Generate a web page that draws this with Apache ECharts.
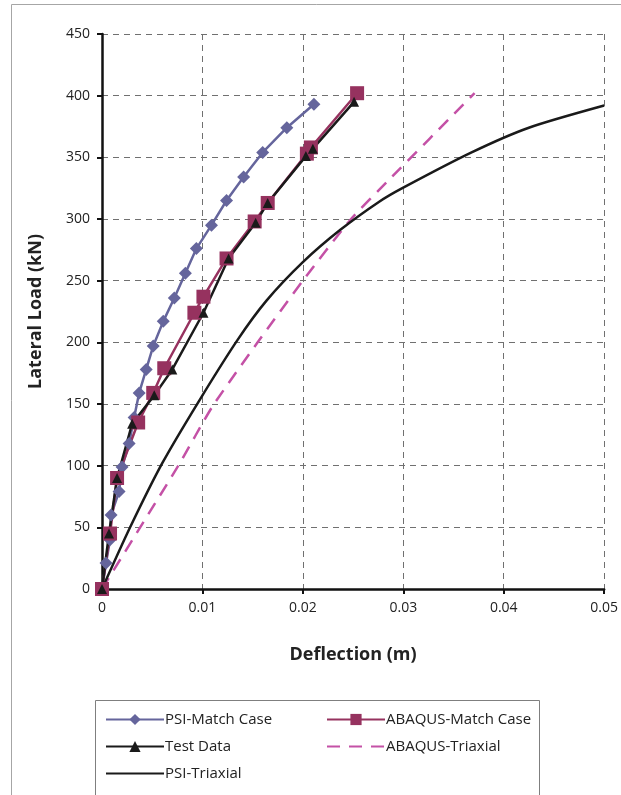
<!DOCTYPE html>
<html>
<head>
<meta charset="utf-8">
<script src="https://cdn.jsdelivr.net/npm/echarts@6/dist/echarts.min.js"></script>
<style>
  html, body { margin: 0; padding: 0; background: #fff; }
  #chart { width: 621px; height: 795px; }
</style>
</head>
<body>
<div id="chart"></div>
<script>
// deflection (m) / lateral load (kN)
let psiMatchDefl = [0, 0.0004, 0.0008, 0.0009, 0.0017, 0.002, 0.0027, 0.0032, 0.0037, 0.0044, 0.0051, 0.0061, 0.0072, 0.0083, 0.0094, 0.0109, 0.0124, 0.0141, 0.016, 0.0184, 0.0211];
let psiMatchLoad = [0, 21, 40, 60, 79, 99, 118, 139, 159, 178, 197, 217, 236, 256, 276, 295, 315, 334, 354, 374, 393];

let abaqusMatchDefl = [0, 0.0008, 0.0015, 0.0036, 0.0051, 0.0062, 0.0092, 0.0101, 0.0124, 0.0152, 0.0165, 0.0204, 0.0208, 0.0254];
let abaqusMatchLoad = [0, 45, 90, 135, 159, 179, 224, 237, 268, 298, 313, 353, 358, 402];

let testDefl = [0, 0.0007, 0.0015, 0.003, 0.0052, 0.007, 0.0101, 0.0126, 0.0153, 0.0165, 0.0203, 0.021, 0.0251];
let testLoad = [0, 45, 90, 134, 157, 178, 224, 268, 297, 313, 351, 357, 395];

let abaqusTriDefl = [0, 0.0038, 0.0076, 0.011, 0.0155, 0.02, 0.0247, 0.0286, 0.0371];
let abaqusTriLoad = [0, 50, 100, 148, 200, 250, 299, 332, 402];

let psiTriDefl = [0, 0.0028, 0.006, 0.0097, 0.0135, 0.0164, 0.02, 0.0237, 0.0276, 0.0299, 0.0368, 0.0425, 0.05];
let psiTriLoad = [0, 50, 102, 153, 202, 234, 265, 291, 314, 325, 354, 374, 392];

function zip(xs, ys) {
    return xs.map((x, i) => [x, ys[i]]);
}

let chart = echarts.init(document.getElementById('chart'));
let font = '"Open Sans", "Noto Sans", sans-serif';

let legendText = { fontSize: 15, color: '#222', fontFamily: font, padding: [0, 0, 0, -4] };

let option = {
    animation: false,
    textStyle: { fontFamily: font },
    graphic: [
        {
            type: 'rect',
            shape: { x: 11.5, y: 4.5, width: 640, height: 820 },
            style: { fill: 'none', stroke: '#a6a6a6', lineWidth: 1 }
        },
        {
            type: 'rect',
            shape: { x: 95.5, y: 700.5, width: 444, height: 120 },
            style: { fill: 'none', stroke: '#7f7f7f', lineWidth: 1 }
        }
    ],
    grid: { left: 102, right: 16, top: 34, bottom: 206 },
    xAxis: {
        type: 'value',
        min: 0,
        max: 0.05,
        interval: 0.01,
        name: 'Deflection (m)',
        nameLocation: 'middle',
        nameGap: 57,
        nameTextStyle: { fontSize: 18, fontWeight: 'bold', color: '#222', fontFamily: font },
        axisLine: { lineStyle: { color: '#111', width: 2.5 } },
        axisTick: { show: true, length: 5, lineStyle: { color: '#111', width: 2 } },
        axisLabel: { fontSize: 14, color: '#222', margin: 12, fontFamily: font },
        splitLine: { show: true, lineStyle: { color: '#707070', type: [6, 5], width: 1 } }
    },
    yAxis: {
        type: 'value',
        min: 0,
        max: 450,
        interval: 50,
        name: 'Lateral Load (kN)',
        nameLocation: 'middle',
        nameGap: 57,
        nameRotate: 90,
        nameTextStyle: { fontSize: 18, fontWeight: 'bold', color: '#222', fontFamily: font },
        axisLine: { show: true, lineStyle: { color: '#111', width: 2.5 } },
        axisTick: { show: true, length: 5, lineStyle: { color: '#111', width: 2 } },
        axisLabel: { fontSize: 14, color: '#222', margin: 12, fontFamily: font },
        splitLine: { show: true, lineStyle: { color: '#707070', type: [6, 5], width: 1 } }
    },
    legend: [
        {
            left: 100,
            top: 707,
            orient: 'vertical',
            itemWidth: 58,
            itemHeight: 14,
            itemGap: 12,
            textStyle: legendText,
            data: [
                'PSI-Match Case',
                'Test Data',
                { name: 'PSI-Triaxial', itemStyle: { opacity: 0 } }
            ]
        },
        {
            left: 321,
            top: 707,
            orient: 'vertical',
            itemWidth: 58,
            itemHeight: 14,
            itemGap: 12,
            textStyle: legendText,
            data: [
                'ABAQUS-Match Case',
                { name: 'ABAQUS-Triaxial', itemStyle: { opacity: 0 } }
            ]
        }
    ],
    series: [
        {
            name: 'PSI-Match Case',
            type: 'line',
            data: zip(psiMatchDefl, psiMatchLoad),
            symbol: 'diamond',
            symbolSize: 13,
            color: '#65659c',
            lineStyle: { width: 2.5, color: '#65659c' },
            itemStyle: { color: '#65659c' }
        },
        {
            name: 'ABAQUS-Match Case',
            type: 'line',
            data: zip(abaqusMatchDefl, abaqusMatchLoad),
            symbol: 'rect',
            symbolSize: 14,
            color: '#96325f',
            lineStyle: { width: 2.5, color: '#96325f' },
            itemStyle: { color: '#96325f' }
        },
        {
            name: 'Test Data',
            type: 'line',
            data: zip(testDefl, testLoad),
            symbol: 'triangle',
            symbolSize: 10,
            color: '#1a1a1a',
            lineStyle: { width: 2.5, color: '#1a1a1a' },
            itemStyle: { color: '#1a1a1a' }
        },
        {
            name: 'ABAQUS-Triaxial',
            type: 'line',
            data: zip(abaqusTriDefl, abaqusTriLoad),
            symbol: 'none',
            smooth: 0.2,
            color: '#c451a6',
            lineStyle: { width: 2.5, color: '#c451a6', type: [13, 9] }
        },
        {
            name: 'PSI-Triaxial',
            type: 'line',
            data: zip(psiTriDefl, psiTriLoad),
            symbol: 'none',
            smooth: 0.25,
            color: '#1a1a1a',
            lineStyle: { width: 2.5, color: '#1a1a1a' }
        }
    ]
};

chart.setOption(option);
</script>
</body>
</html>
